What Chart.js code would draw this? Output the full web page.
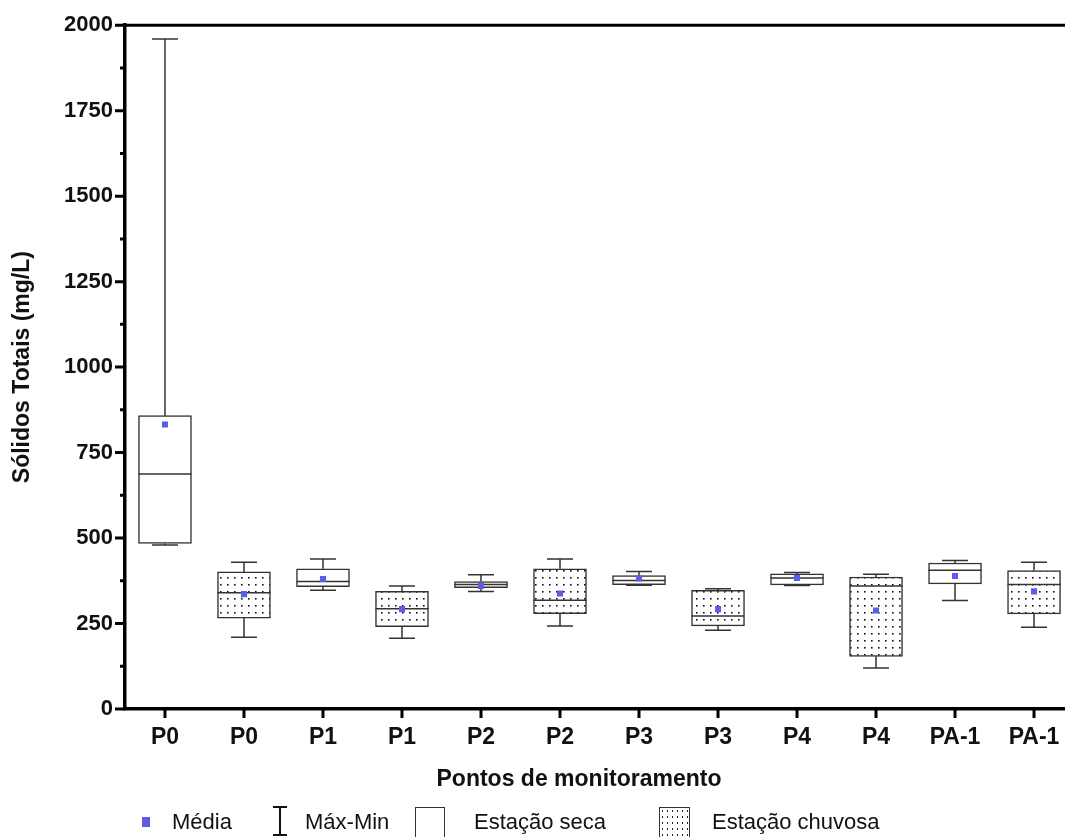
<!DOCTYPE html>
<html>
<head>
<meta charset="utf-8">
<script src="https://cdn.jsdelivr.net/npm/chart.js@4.4.1/dist/chart.umd.min.js"></script>
<style>
  html, body { margin:0; padding:0; background:#fff; overflow:hidden; }
  #wrap { position:relative; width:1065px; height:837px; font-family:"Liberation Sans", Arial, sans-serif; }
  #c { position:absolute; left:0; top:0; }
  .lbl { position:absolute; font-size:22px; color:#111; line-height:24px; white-space:nowrap; }
  #xtitle { position:absolute; left:329px; width:500px; text-align:center; top:765px; font-weight:bold; font-size:23px; color:#111; line-height:26px; }
  .ico { position:absolute; box-sizing:border-box; }
</style>
</head>
<body>
<div id="wrap">
  <canvas id="c" width="1065" height="837"></canvas>
  <div id="xtitle">Pontos de monitoramento</div>
  <div class="ico" style="left:142px;top:817px;width:8px;height:10px;background:#5c5ce6;"></div>
  <div class="lbl" style="left:172px;top:810px;">Média</div>
  <div class="ico" style="left:279px;top:806px;width:2px;height:30px;background:#111;"></div>
  <div class="ico" style="left:273px;top:806px;width:14px;height:2px;background:#111;"></div>
  <div class="ico" style="left:273px;top:834px;width:14px;height:2px;background:#111;"></div>
  <div class="lbl" style="left:305px;top:810px;">Máx-Min</div>
  <div class="ico" style="left:415px;top:807px;width:30px;height:32px;border:1.5px solid #333;background:#fff;"></div>
  <div class="lbl" style="left:474px;top:810px;">Estação seca</div>
  <div class="ico" style="left:659px;top:807px;width:31px;height:32px;border:1.5px solid #333;background-color:#fff;background-image:radial-gradient(circle, #222 0.8px, transparent 1.1px);background-size:5px 6px;"></div>
  <div class="lbl" style="left:712px;top:810px;">Estação chuvosa</div>
</div>
<script>
// ---- data ----
const categories = ['P0','P0','P1','P1','P2','P2','P3','P3','P4','P4','PA-1','PA-1'];
const seasons    = ['seca','chuvosa','seca','chuvosa','seca','chuvosa','seca','chuvosa','seca','chuvosa','seca','chuvosa'];
const maxValues    = [1960, 429, 439, 360, 393, 439, 402, 352, 399, 394, 434, 429];
const q3Values     = [858, 401, 410, 344, 373, 410, 390, 347, 395, 386, 427, 405];
const medianValues = [687, 340, 373, 293, 364, 318, 376, 272, 383, 360, 406, 364];
const q1Values     = [484, 266, 358, 241, 355, 279, 364, 243, 363, 154, 366, 278];
const minValues    = [480, 210, 347, 207, 344, 243, 362, 230, 361, 120, 317, 239];
const meanValues   = [832, 336, 380, 292, 360, 338, 382, 292, 383, 288, 389, 344];
const yTickValues  = [0, 250, 500, 750, 1000, 1250, 1500, 1750, 2000];

// dotted pattern
const pc = document.createElement('canvas');
pc.width = 7; pc.height = 7;
const pctx = pc.getContext('2d');
pctx.fillStyle = '#fff'; pctx.fillRect(0,0,7,7);
pctx.fillStyle = '#111'; pctx.fillRect(3,3,1.6,1.6);
const ctx = document.getElementById('c').getContext('2d');
const dots = ctx.createPattern(pc, 'repeat');

const idx = categories.map((_, i) => i);
const dryData = idx.filter(i => seasons[i] === 'seca').map(i => ({x: i, y: [q1Values[i], q3Values[i]]}));
const wetData = idx.filter(i => seasons[i] === 'chuvosa').map(i => ({x: i, y: [q1Values[i], q3Values[i]]}));
const meanData = idx.map(i => ({x: i, y: meanValues[i]}));

const boxPlugin = {
  id: 'boxExtras',
  afterDatasetDraw(chart, args) {
    const meta = args.meta;
    if (meta.type !== 'bar') return;
    const xs = chart.scales.x, ys = chart.scales.y;
    const c = chart.ctx;
    c.save();
    c.strokeStyle = '#333';
    c.lineWidth = 1.5;
    meta.data.forEach((el, j) => {
      const i = chart.data.datasets[args.index].data[j].x;
      const x = xs.getPixelForValue(i);
      const yMax = ys.getPixelForValue(maxValues[i]);
      const yQ3 = ys.getPixelForValue(q3Values[i]);
      const yQ1 = ys.getPixelForValue(q1Values[i]);
      const yMin = ys.getPixelForValue(minValues[i]);
      const yMed = ys.getPixelForValue(medianValues[i]);
      const cap = 13, half = 26.5;
      c.beginPath();
      c.moveTo(x, yQ3); c.lineTo(x, yMax);
      c.moveTo(x - cap, yMax); c.lineTo(x + cap, yMax);
      c.moveTo(x, yQ1); c.lineTo(x, yMin);
      c.moveTo(x - cap, yMin); c.lineTo(x + cap, yMin);
      c.moveTo(x - half, yMed); c.lineTo(x + half, yMed);
      c.stroke();
    });
    c.restore();
  },
  afterDraw(chart) {
    const xs = chart.scales.x, ys = chart.scales.y;
    const a = chart.chartArea;
    const c = chart.ctx;
    c.save();
    c.strokeStyle = '#000';
    c.lineWidth = 3;
    // top frame line
    const yTop = ys.getPixelForValue(2000);
    c.beginPath(); c.moveTo(a.left, yTop); c.lineTo(a.right, yTop); c.stroke();
    // y ticks (major + minor)
    c.beginPath();
    for (let v = 0; v <= 2000; v += 125) {
      const y = ys.getPixelForValue(v);
      const len = (v % 250 === 0) ? 10 : 5;
      c.moveTo(a.left - len, y); c.lineTo(a.left, y);
    }
    // x ticks
    idx.forEach(i => {
      const x = xs.getPixelForValue(i);
      c.moveTo(x, a.bottom); c.lineTo(x, a.bottom + 9);
    });
    c.stroke();
    c.restore();
  }
};

new Chart(ctx, {
  type: 'bar',
  data: {
    datasets: [
      { label: 'Média', type: 'scatter', data: meanData, backgroundColor: '#5c5ce6', borderWidth: 0,
        pointStyle: 'rect', pointRadius: 4.3, order: 1 },
      { label: 'Estação seca', data: dryData, backgroundColor: '#fff', borderColor: '#333', borderWidth: 1.5,
        borderSkipped: false, barThickness: 53, grouped: false, order: 2 },
      { label: 'Estação chuvosa', data: wetData, backgroundColor: dots, borderColor: '#333', borderWidth: 1.5,
        borderSkipped: false, barThickness: 53, grouped: false, order: 3 }
    ]
  },
  options: {
    responsive: false,
    animation: false,
    events: [],
    layout: { autoPadding: false, padding: { left: 0, right: 0, top: 24, bottom: 38 } },
    plugins: { legend: { display: false }, tooltip: { enabled: false } },
    scales: {
      x: {
        type: 'linear',
        offset: false,
        min: -0.506, max: 11.392,
        afterBuildTicks: (s) => { s.ticks = idx.map(i => ({ value: i })); },
        afterFit: (s) => { s.height = 90; s.paddingRight = 0; s.paddingLeft = 0; },
        ticks: {
          autoSkip: false, maxRotation: 0, minRotation: 0, padding: 15,
          color: '#111', font: { family: 'Liberation Sans, Arial, sans-serif', size: 23, weight: 'bold' },
          callback: (v) => categories[v]
        },
        grid: { display: true, drawOnChartArea: false, drawTicks: false, offset: false },
        border: { display: true, color: '#000', width: 3.5 }
      },
      y: {
        min: 0, max: 2000,
        afterBuildTicks: (s) => { s.ticks = yTickValues.map(v => ({ value: v })); },
        afterFit: (s) => { s.width = 125; },
        ticks: {
          padding: 12, color: '#111',
          font: { family: 'Liberation Sans, Arial, sans-serif', size: 22, weight: 'bold' },
          callback: (v) => String(v)
        },
        grid: { display: true, drawOnChartArea: false, drawTicks: false },
        border: { display: true, color: '#000', width: 3.5 },
        title: {
          display: true, text: 'Sólidos Totais (mg/L)', color: '#111',
          font: { family: 'Liberation Sans, Arial, sans-serif', size: 23, weight: 'bold' },
          padding: { top: 9, bottom: 0 }
        }
      }
    }
  },
  plugins: [boxPlugin]
});
</script>
</body>
</html>
